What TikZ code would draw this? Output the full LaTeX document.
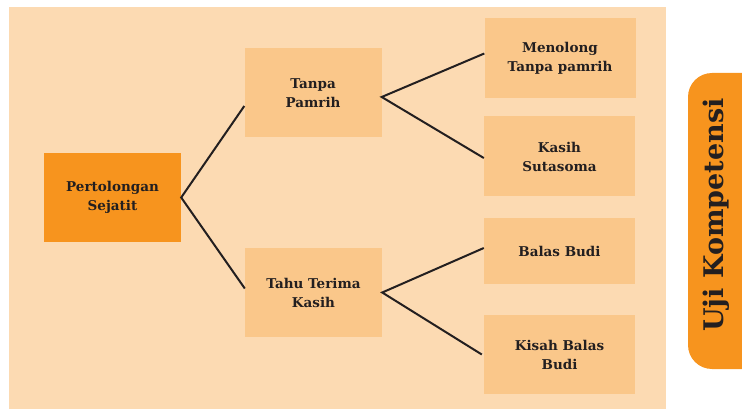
\documentclass[tikz,border=0pt]{standalone}
\usepackage{fontspec}
\setmainfont{DejaVu Serif}
\usetikzlibrary{positioning}

\definecolor{peach}{RGB}{252,218,178}
\definecolor{boxorange}{RGB}{250,199,138}
\definecolor{deeporange}{RGB}{247,148,30}
\definecolor{inkdark}{RGB}{35,31,32}

\tikzset{
  topic/.style={fill=boxorange, text=inkdark, align=center, inner sep=0pt,
    font=\bfseries\fontsize{13.5}{19}\selectfont},
  rootbox/.style={topic, fill=deeporange, minimum width=137pt, minimum height=89pt},
  midbox/.style={topic, minimum width=137pt, minimum height=89pt},
  leafbox/.style={topic, minimum width=151pt, minimum height=80pt},
  branch/.style={draw=inkdark, line width=2pt}
}

\begin{document}
\begin{tikzpicture}[x=1pt,y=-1pt]
  \useasboundingbox (0,0) rectangle (742,409);
  \clip (0,0) rectangle (742,409);
  \fill[peach] (9,7) rectangle (666,409);

  \node[rootbox] (sejati) at (112.5,197.5) {Pertolongan\\Sejatit};
  \node[midbox] (tanpa) at (313,93) {Tanpa\\Pamrih};
  \node[midbox] (tahu) at (313.5,292.5) {Tahu Terima\\Kasih};
  \node[leafbox] (menolong) at (560,58.5) {Menolong\\Tanpa pamrih};
  \node[leafbox] (sutasoma) at (559.5,156.5) {Kasih\\Sutasoma};
  \node[leafbox, minimum height=66pt] (balas) at (559.5,251) {Balas Budi};
  \node[leafbox, minimum height=79pt] (kisah) at (559.5,354.5) {Kisah Balas\\Budi};

  \draw[branch] ([yshift=-13pt]tanpa.west) -- (sejati.east) -- ([yshift=4pt]tahu.west);
  \draw[branch] ([yshift=5pt]menolong.west) -- ([yshift=-4pt]tanpa.east) -- ([yshift=-1.5pt]sutasoma.west);
  \draw[branch] ([yshift=3pt]balas.west) -- (tahu.east) -- ([xshift=-2pt]kisah.west);

  % side tab
  \fill[deeporange, rounded corners=24pt] (688,73) rectangle (770,369);
  \node[rotate=90, text=inkdark, font=\bfseries\fontsize{27}{27}\selectfont] (uji) at (716,215) {Uji Kompetensi};
\end{tikzpicture}
\end{document}
